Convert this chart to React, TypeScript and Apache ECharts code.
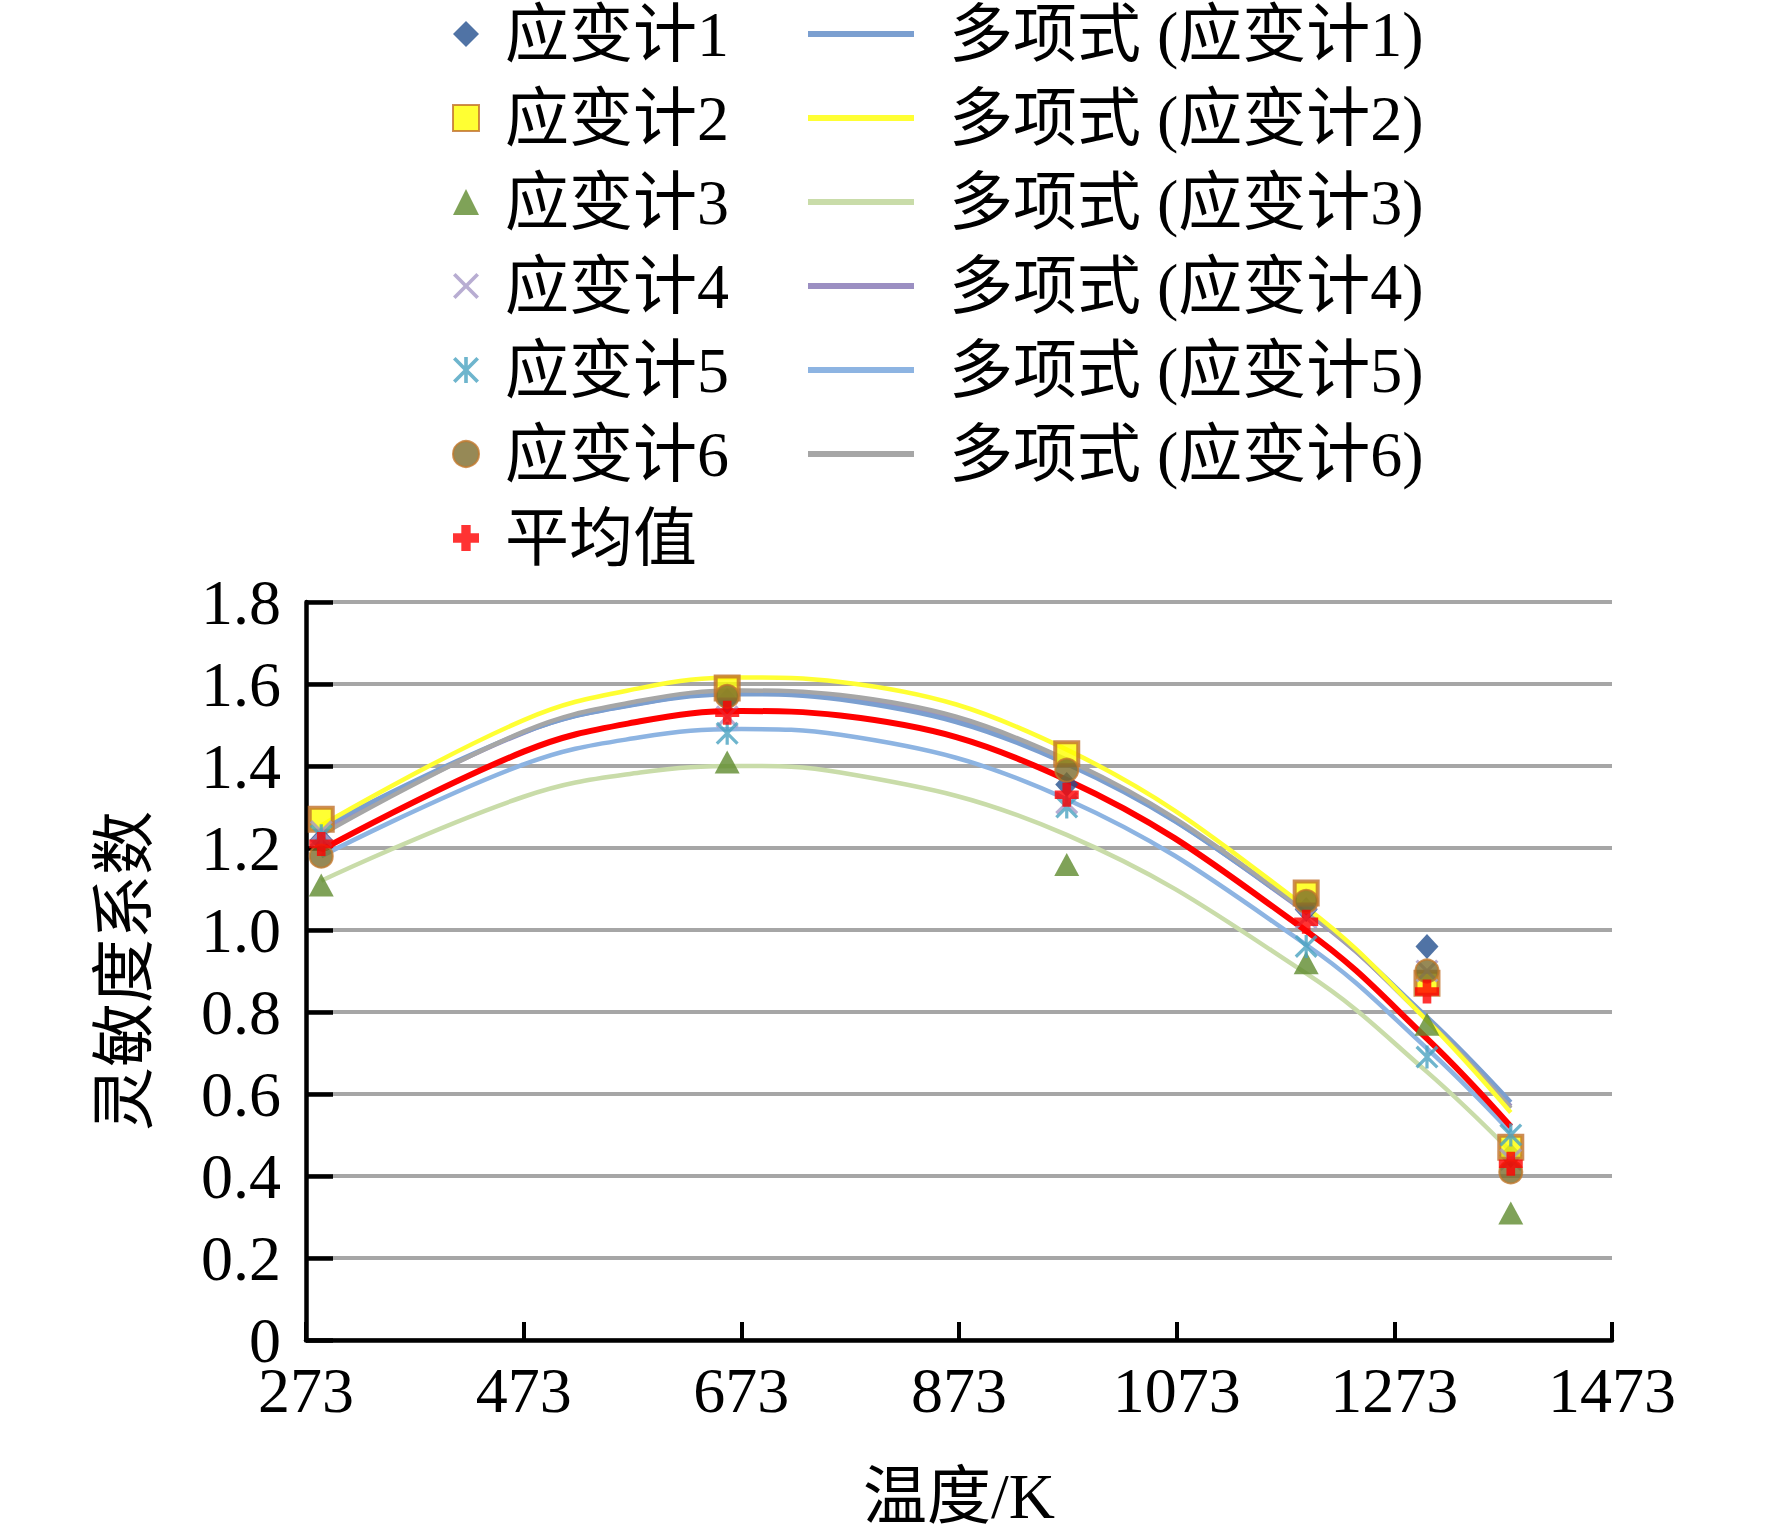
import React, { useEffect, useRef } from "react";
import * as echarts from "echarts";

const FONT = "'Liberation Serif', 'Times New Roman', 'Noto Sans CJK SC', serif";

// measured temperatures (K) of the data points
const temperatures = [287, 660, 972, 1192, 1303, 1380];

// sensitivity coefficients of each strain gauge
const gauge1 = [1.22, 1.56, 1.355, 1.05, 0.96, 0.45];
const gauge2 = [1.27, 1.59, 1.43, 1.09, 0.87, 0.47];
const gauge3 = [1.11, 1.41, 1.16, 0.92, 0.77, 0.31];
const gauge4 = [1.24, 1.52, 1.31, 1.03, 0.9, 0.44];
const gauge5 = [1.23, 1.48, 1.3, 0.96, 0.69, 0.5];
const gauge6 = [1.18, 1.57, 1.39, 1.07, 0.9, 0.41];
const average = [1.21, 1.53, 1.33, 1.02, 0.85, 0.43];

// polynomial trend lines
const trendX = [287, 473, 580, 673, 764, 972, 1192, 1303, 1380];
const trend1 = [1.249, 1.482, 1.552, 1.575, 1.562, 1.405, 1.045, 0.788, 0.58];
const trend2 = [1.255, 1.512, 1.59, 1.616, 1.605, 1.44, 1.055, 0.779, 0.555];
const trend3 = [1.12, 1.325, 1.384, 1.4, 1.384, 1.232, 0.894, 0.654, 0.46];
const trend4 = [1.24, 1.481, 1.553, 1.578, 1.566, 1.408, 1.043, 0.782, 0.57];
const trend5 = [1.18, 1.404, 1.47, 1.49, 1.476, 1.319, 0.964, 0.711, 0.507];
const trend6 = [1.232, 1.484, 1.559, 1.584, 1.573, 1.415, 1.046, 0.781, 0.565];
const trendAvg = [1.195, 1.435, 1.509, 1.534, 1.523, 1.366, 0.998, 0.735, 0.521];

// axis ticks
const xTicks = [273, 473, 673, 873, 1073, 1273, 1473];
const yTicks = [0, 0.2, 0.4, 0.6, 0.8, 1.0, 1.2, 1.4, 1.6, 1.8];

const scatterNames = ["应变计1", "应变计2", "应变计3", "应变计4", "应变计5", "应变计6", "平均值"];
const trendNames = [
  "多项式 (应变计1)",
  "多项式 (应变计2)",
  "多项式 (应变计3)",
  "多项式 (应变计4)",
  "多项式 (应变计5)",
  "多项式 (应变计6)",
];

const X_PATH =
  "path://M1,0 L5,4 L9,0 L10,1 L6,5 L10,9 L9,10 L5,6 L1,10 L0,9 L4,5 L0,1 Z";
const STAR_PATH =
  "path://M1,0 L5,4 L9,0 L10,1 L6,5 L10,9 L9,10 L5,6 L1,10 L0,9 L4,5 L0,1 Z M4.3,0 L5.7,0 L5.7,10 L4.3,10 Z";
const PLUS_PATH =
  "path://M3.2,0 L6.8,0 L6.8,3.2 L10,3.2 L10,6.8 L6.8,6.8 L6.8,10 L3.2,10 L3.2,6.8 L0,6.8 L0,3.2 L3.2,3.2 Z";

function pairs(xs: number[], ys: number[]) {
  return xs.map((x, i) => [x, ys[i]]);
}

function buildOption() {
  const scatterStyles: any[] = [
    { symbol: "diamond", symbolSize: [23, 25], itemStyle: { color: "#24508f" } },
    {
      symbol: "rect",
      symbolSize: 23,
      itemStyle: { color: "#ffff00", borderColor: "#c0702c", borderWidth: 4 },
    },
    { symbol: "triangle", symbolSize: [25, 23], itemStyle: { color: "#5f8b2e" } },
    { symbol: X_PATH, symbolSize: 23, itemStyle: { color: "#a699c7" } },
    { symbol: STAR_PATH, symbolSize: 23, itemStyle: { color: "#4aa3c0" } },
    {
      symbol: "circle",
      symbolSize: 23,
      itemStyle: { color: "#7c6b2c", borderColor: "#c0782c", borderWidth: 2 },
    },
    { symbol: PLUS_PATH, symbolSize: 24, itemStyle: { color: "#ff0000" } },
  ];
  const scatterData = [gauge1, gauge2, gauge3, gauge4, gauge5, gauge6, average];

  const trendData = [trend1, trend2, trend3, trend4, trend5, trend6];
  const trendColors = ["#7b9fd0", "#ffff33", "#c9dca9", "#9b8fc2", "#8db4e2", "#a6a6a6"];
  const drawOrder = [2, 4, 3, 0, 5, 1];

  const lineSeries: any[] = drawOrder.map((i) => ({
    type: "line",
    name: trendNames[i],
    data: pairs(trendX, trendData[i]),
    smooth: 0.4,
    showSymbol: false,
    symbol: "none",
    silent: true,
    z: 2,
    lineStyle: { color: trendColors[i], width: 4.5 },
    itemStyle: { color: trendColors[i] },
  }));
  lineSeries.push({
    type: "line",
    name: "多项式 (平均值)",
    data: pairs(trendX, trendAvg),
    smooth: 0.4,
    showSymbol: false,
    symbol: "none",
    silent: true,
    z: 3,
    lineStyle: { color: "#ff0000", width: 6 },
    itemStyle: { color: "#ff0000" },
  });

  const scatterSeries = scatterNames.map((name, i) => ({
    type: "scatter",
    name,
    data: pairs(temperatures, scatterData[i]),
    z: 4 + i,
    silent: true,
    ...scatterStyles[i],
  }));

  return {
    animation: false,
    backgroundColor: "#ffffff",
    textStyle: { fontFamily: FONT, color: "#000" },
    grid: { left: 306, top: 602, width: 1306, height: 738, containLabel: false },
    legend: [
      {
        data: scatterNames,
        orient: "vertical",
        left: 452,
        top: 2,
        padding: 0,
        itemWidth: 26,
        itemHeight: 26,
        itemGap: 20,
        selectedMode: false,
        textStyle: {
          fontFamily: FONT,
          fontSize: 64,
          lineHeight: 64,
          color: "#000",
          padding: [0, 0, 0, 21],
        },
      },
      {
        data: trendNames.map((n) => ({ name: n, icon: "rect" })),
        orient: "vertical",
        left: 808,
        top: 2,
        padding: 0,
        itemWidth: 106,
        itemHeight: 6,
        itemGap: 20,
        selectedMode: false,
        textStyle: {
          fontFamily: FONT,
          fontSize: 64,
          lineHeight: 64,
          color: "#000",
          padding: [0, 0, 0, 30],
        },
      },
    ],
    xAxis: {
      type: "value",
      min: xTicks[0],
      max: xTicks[xTicks.length - 1],
      interval: xTicks[1] - xTicks[0],
      name: "温度/K",
      nameLocation: "middle",
      nameGap: 124,
      nameTextStyle: { fontFamily: FONT, fontSize: 64, color: "#000" },
      axisLine: { show: true, onZero: false, lineStyle: { color: "#000", width: 4.5 } },
      axisTick: { show: true, inside: true, length: 18, lineStyle: { color: "#000", width: 4 } },
      axisLabel: {
        fontFamily: FONT,
        fontSize: 64,
        lineHeight: 64,
        color: "#000",
        margin: 18,
        formatter: (v: number) => String(v),
      },
      splitLine: { show: false },
    },
    yAxis: {
      type: "value",
      min: yTicks[0],
      max: yTicks[yTicks.length - 1],
      interval: yTicks[1] - yTicks[0],
      name: "灵敏度系数",
      nameLocation: "middle",
      nameGap: 150,
      nameTextStyle: { fontFamily: FONT, fontSize: 64, color: "#000" },
      axisLine: { show: true, onZero: false, lineStyle: { color: "#000", width: 4.5 } },
      axisTick: { show: true, inside: true, length: 27, lineStyle: { color: "#000", width: 4.5 } },
      axisLabel: {
        fontFamily: FONT,
        fontSize: 64,
        lineHeight: 30,
        color: "#000",
        margin: 25,
        formatter: (v: number) => (v === 0 ? "0" : v.toFixed(1)),
      },
      splitLine: { show: true, lineStyle: { color: "#a6a6a6", width: 4 } },
    },
    series: [...lineSeries, ...scatterSeries],
  };
}

export default function App() {
  const ref = useRef<HTMLDivElement>(null);
  useEffect(() => {
    document.body.style.margin = "0";
    document.body.style.overflow = "hidden";
    const chart = echarts.init(ref.current!, null, { renderer: "svg" });
    chart.setOption(buildOption() as any);
    return () => chart.dispose();
  }, []);
  return <div ref={ref} style={{ width: 1772, height: 1537 }} />;
}
